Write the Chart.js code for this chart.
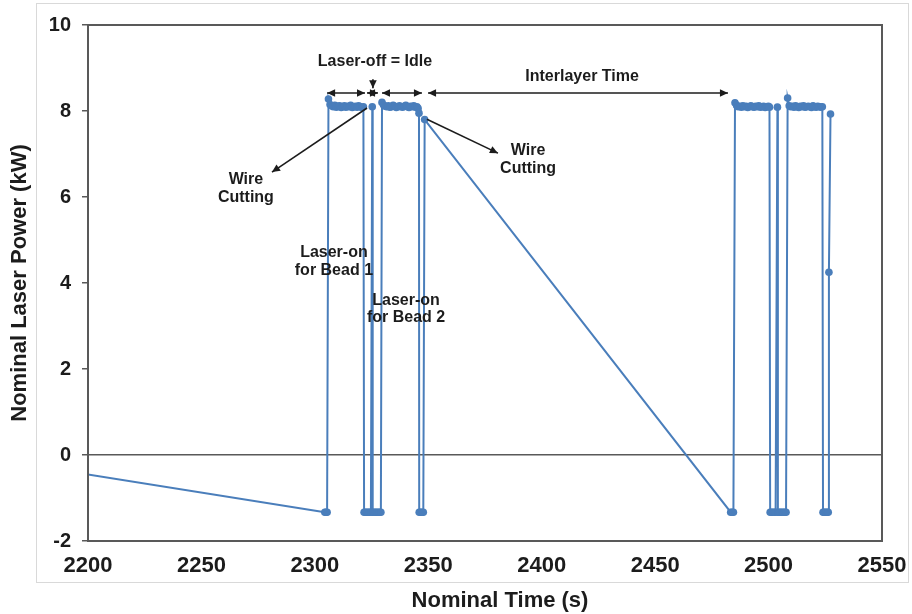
<!DOCTYPE html>
<html>
<head>
<meta charset="utf-8">
<title>Nominal Laser Power</title>
<script src="https://cdn.jsdelivr.net/npm/chart.js@4.4.1/dist/chart.umd.min.js"></script>
<style>
  html, body { margin: 0; padding: 0; background: #ffffff; }
</style>
</head>
<body>
<canvas id="powergraph" width="912" height="614"></canvas>
<script>
// values: time (s) and nominal laser power (kW)
const timeS = [
  2195,
  2304.4, 2304.9, 2305.4,
  2306.0, 2306.7, 2307.4, 2308.1, 2308.8, 2309.5, 2310.2, 2310.9, 2311.6, 2312.3, 2313.0, 2313.7,
  2314.4, 2315.1, 2315.8, 2316.5, 2317.2, 2317.9, 2318.6, 2319.3, 2320.0, 2320.7, 2321.4,
  2321.7, 2322.3, 2322.9, 2323.5, 2324.1, 2324.7,
  2325.3,
  2325.5, 2326.1, 2326.7, 2327.3, 2327.9, 2328.5, 2329.1,
  2329.6, 2330.3, 2331.0, 2331.7, 2332.4, 2333.1, 2333.8, 2334.5, 2335.2, 2335.9, 2336.6, 2337.3,
  2338.0, 2338.7, 2339.4, 2340.1, 2340.8, 2341.5, 2342.2, 2342.9, 2343.6, 2344.3, 2345.0, 2345.5, 2345.9,
  2346.0, 2346.6, 2347.2, 2347.8,
  2348.4,
  2483.3, 2483.9, 2484.5,
  2485.2, 2485.9, 2486.6, 2487.3, 2488.0, 2488.7, 2489.4, 2490.1, 2490.8, 2491.5, 2492.2, 2492.9,
  2493.6, 2494.3, 2495.0, 2495.7, 2496.4, 2497.1, 2497.8, 2498.5, 2499.2, 2499.9, 2500.4,
  2500.7, 2501.3, 2501.9, 2502.5, 2503.1,
  2503.9,
  2504.1, 2504.7, 2505.3, 2505.9, 2506.5, 2507.1, 2507.7,
  2508.4, 2509.1, 2509.8, 2510.5, 2511.2, 2511.9, 2512.6, 2513.3, 2514.0, 2514.7, 2515.4, 2516.1,
  2516.8, 2517.5, 2518.2, 2518.9, 2519.6, 2520.3, 2521.0, 2521.7, 2522.4, 2523.1, 2523.7,
  2524.0, 2524.6, 2525.2, 2525.8, 2526.3,
  2526.6, 2527.3
];
const powerKW = [
  -0.41,
  -1.33, -1.33, -1.33,
  8.28, 8.15, 8.12, 8.10, 8.13, 8.09, 8.11, 8.12, 8.08, 8.10, 8.12, 8.09,
  8.11, 8.10, 8.13, 8.08, 8.10, 8.11, 8.09, 8.12, 8.10, 8.08, 8.10,
  -1.33, -1.33, -1.33, -1.33, -1.33, -1.33,
  8.10,
  -1.33, -1.33, -1.33, -1.33, -1.33, -1.33, -1.33,
  8.20, 8.14, 8.11, 8.10, 8.12, 8.09, 8.10, 8.13, 8.11, 8.08, 8.10, 8.12,
  8.10, 8.09, 8.11, 8.13, 8.10, 8.08, 8.11, 8.10, 8.12, 8.09, 8.10, 8.06, 7.95,
  -1.33, -1.33, -1.33, -1.33,
  7.80,
  -1.33, -1.33, -1.33,
  8.19, 8.13, 8.10, 8.11, 8.09, 8.12, 8.10, 8.11, 8.08, 8.10, 8.12, 8.10,
  8.09, 8.11, 8.10, 8.12, 8.09, 8.10, 8.11, 8.08, 8.10, 8.11, 8.09,
  -1.33, -1.33, -1.33, -1.33, -1.33,
  8.09,
  -1.33, -1.33, -1.33, -1.33, -1.33, -1.33, -1.33,
  8.30, 8.12, 8.10, 8.11, 8.09, 8.12, 8.10, 8.08, 8.11, 8.10, 8.12, 8.09,
  8.10, 8.11, 8.10, 8.08, 8.12, 8.10, 8.09, 8.11, 8.10, 8.09, 8.10,
  -1.33, -1.33, -1.33, -1.33, -1.33,
  4.25, 7.93
];
const xTicks = [2200, 2250, 2300, 2350, 2400, 2450, 2500, 2550];
const yTicks = [-2, 0, 2, 4, 6, 8, 10];

// callouts, in data units (time, power)
const notes = [
  { lines: ["Laser-off = Idle"], x: 2326.5, y: [9.14] },
  { lines: ["Interlayer Time"], x: 2417.8, y: [8.81] },
  { lines: ["Wire", "Cutting"], x: 2269.6, y: [6.40, 5.98] },
  { lines: ["Wire", "Cutting"], x: 2394.0, y: [7.09, 6.67] },
  { lines: ["Laser-on", "for Bead 1"], x: 2308.4, y: [4.70, 4.30] },
  { lines: ["Laser-on", "for Bead 2"], x: 2340.2, y: [3.58, 3.19] }
];
const arrows = [
  { from: [2325.6, 8.74], to: [2325.6, 8.53], both: false },
  { from: [2305.4, 8.42], to: [2322.1, 8.42], both: true },
  { from: [2323.0, 8.42], to: [2327.8, 8.42], both: true },
  { from: [2329.6, 8.42], to: [2347.2, 8.42], both: true },
  { from: [2349.9, 8.42], to: [2482.1, 8.42], both: true },
  { from: [2323.0, 8.07], to: [2281.1, 6.58], both: false },
  { from: [2349.4, 7.81], to: [2380.7, 7.02], both: false }
];

const FONT = "'Liberation Sans', Arial, sans-serif";
const INK = "#1c1c1c";
const BLUE = "#4A7EBB";

function head(c, x0, y0, x1, y1) {
  // filled arrow head pointing at (x1, y1)
  const a = Math.atan2(y1 - y0, x1 - x0);
  const len = 8, half = 3.8;
  c.beginPath();
  c.moveTo(x1, y1);
  c.lineTo(x1 - len * Math.cos(a) + half * Math.sin(a), y1 - len * Math.sin(a) - half * Math.cos(a));
  c.lineTo(x1 - len * Math.cos(a) - half * Math.sin(a), y1 - len * Math.sin(a) + half * Math.cos(a));
  c.closePath();
  c.fill();
}

const decor = {
  id: "decor",
  beforeDraw(chart) {
    const c = chart.ctx;
    c.save();
    c.strokeStyle = "#d9d9d9";
    c.lineWidth = 1;
    c.strokeRect(36.5, 3.5, 872, 579);
    c.restore();
  },
  afterDatasetsDraw(chart) {
    const c = chart.ctx;
    const a = chart.chartArea;
    const x = chart.scales.x, y = chart.scales.y;
    c.save();
    c.strokeStyle = "#595959";
    c.lineWidth = 2;
    c.strokeRect(a.left, a.top, a.right - a.left, a.bottom - a.top);

    c.strokeStyle = INK;
    c.fillStyle = INK;
    c.lineWidth = 1.6;
    arrows.forEach(function (r) {
      const x0 = x.getPixelForValue(r.from[0]), y0 = y.getPixelForValue(r.from[1]);
      const x1 = x.getPixelForValue(r.to[0]), y1 = y.getPixelForValue(r.to[1]);
      c.beginPath();
      c.moveTo(x0, y0);
      c.lineTo(x1, y1);
      c.stroke();
      head(c, x0, y0, x1, y1);
      if (r.both) head(c, x1, y1, x0, y0);
    });

    c.font = "bold 16px " + FONT;
    c.textAlign = "center";
    c.textBaseline = "middle";
    notes.forEach(function (n) {
      n.lines.forEach(function (t, i) {
        c.fillText(t, x.getPixelForValue(n.x), y.getPixelForValue(n.y[i]));
      });
    });

    // x axis title sits a little right of the plot centre, as in the original
    c.font = "bold 22px " + FONT;
    c.fillText("Nominal Time (s)", 500, 601);
    c.restore();
  }
};

const ctx = document.getElementById("powergraph");

new Chart(ctx, {
  type: "scatter",
  data: {
    datasets: [
      {
        label: "Nominal Laser Power",
        data: timeS.map((t, i) => ({ x: t, y: powerKW[i] })),
        showLine: true,
        borderColor: BLUE,
        backgroundColor: BLUE,
        borderWidth: 2,
        pointRadius: 3.8,
        pointBorderWidth: 0,
        pointHoverRadius: 3.8,
      },
    ],
  },
  options: {
    responsive: false,
    animation: false,
    events: [],
    layout: { padding: { left: 0, top: 25, right: 30, bottom: 0 } },
    plugins: {
      legend: { display: false },
      tooltip: { enabled: false },
    },
    scales: {
      x: {
        type: "linear",
        min: 2200,
        max: 2550,
        afterBuildTicks: (s) => { s.ticks = xTicks.map((v) => ({ value: v })); },
        afterFit: (s) => { s.height = 73; },
        grid: { display: true, drawOnChartArea: false, drawTicks: true, tickLength: 12, tickColor: "rgba(0,0,0,0)" },
        border: { display: false },
        ticks: {
          color: INK,
          padding: 0,
          maxRotation: 0,
          callback: (v) => String(v),
          font: { family: FONT, size: 22, weight: "bold" },
        },
        title: { display: false },
      },
      y: {
        min: -2,
        max: 10,
        afterBuildTicks: (s) => { s.ticks = yTicks.map((v) => ({ value: v })); },
        afterFit: (s) => { s.width = 88; },
        grid: {
          color: (c) => (c.tick && c.tick.value === 0 ? "#595959" : "rgba(0,0,0,0)"),
          lineWidth: 1.5,
          tickColor: "#595959",
          tickLength: 6,
        },
        border: { display: false },
        ticks: { color: INK, padding: 11, font: { family: FONT, size: 20, weight: "bold" } },
        title: {
          display: true,
          text: "Nominal Laser Power (kW)",
          color: INK,
          padding: { top: 7, bottom: 0 },
          font: { family: FONT, size: 22, weight: "bold" },
        },
      },
    },
  },
  plugins: [decor],
});
</script>
</body>
</html>
